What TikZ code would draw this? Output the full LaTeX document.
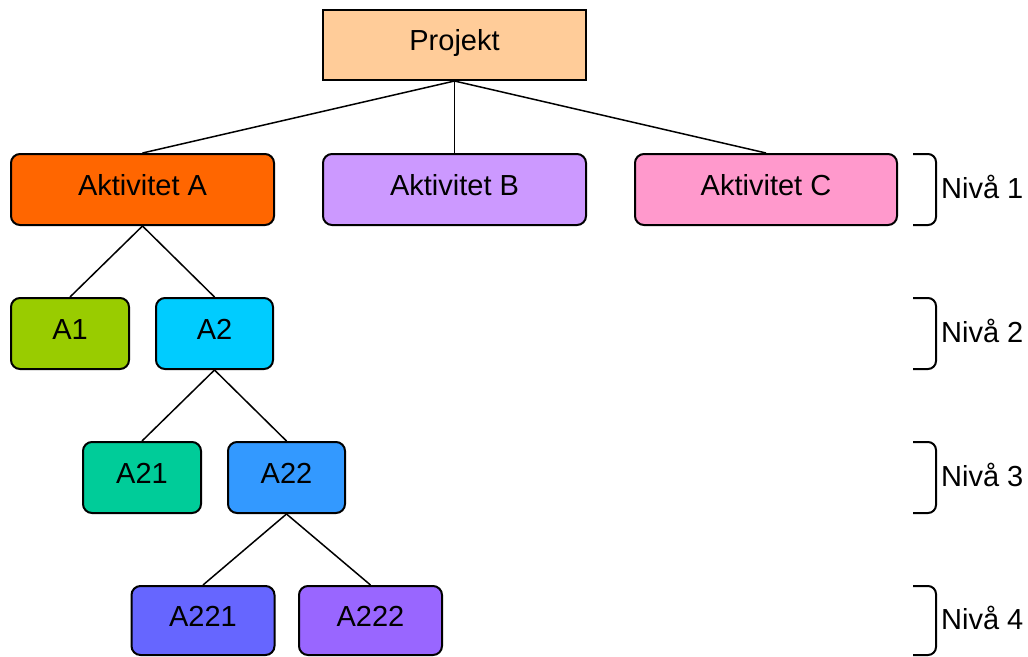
\documentclass[tikz,border=0pt]{standalone}
\usepackage{fontspec}
\setmainfont{Liberation Sans}
\begin{document}
\begin{tikzpicture}[x=1pt,y=-1pt,
  box/.style={draw=black,line width=2pt,rounded corners=9pt,inner sep=0pt,
    font=\fontsize{29}{34}\selectfont,text=black,text height=21pt,text depth=10pt},
  conn/.style={draw=black,line width=1.5pt},
  brace/.style={draw=black,line width=2pt},
  lvl/.style={anchor=west,inner sep=0pt,yshift=3pt,font=\fontsize{29}{34}\selectfont}]
\useasboundingbox (0,0) rectangle (1028,656);
\definecolor{cproj}{HTML}{FFCC99}
\definecolor{ca}{HTML}{FF6600}
\definecolor{cb}{HTML}{CC99FF}
\definecolor{cc}{HTML}{FF99CC}
\definecolor{ca1}{HTML}{99CC00}
\definecolor{ca2}{HTML}{00CCFF}
\definecolor{ca21}{HTML}{00CC99}
\definecolor{ca22}{HTML}{3399FF}
\definecolor{ca221}{HTML}{6666FF}
\definecolor{ca222}{HTML}{9966FF}
\node[box,rounded corners=0pt,fill=cproj,minimum width=263pt,minimum height=70pt] (proj) at (454.5,45) {Projekt};
\node[box,fill=ca,minimum width=263pt,minimum height=71pt] (a) at (142.5,189.5) {Aktivitet A};
\node[box,fill=cb,minimum width=263pt,minimum height=71pt] (b) at (454.5,189.5) {Aktivitet B};
\node[box,fill=cc,minimum width=262pt,minimum height=71pt] (c) at (766,189.5) {Aktivitet C};
\node[box,fill=ca1,minimum width=118pt,minimum height=71pt] (a1) at (70,333.5) {A1};
\node[box,fill=ca2,minimum width=117pt,minimum height=71pt] (a2) at (214.5,333.5) {A2};
\node[box,fill=ca21,minimum width=118pt,minimum height=71pt] (a21) at (142,477.5) {A21};
\node[box,fill=ca22,minimum width=117pt,minimum height=71pt] (a22) at (286.5,477.5) {A22};
\node[box,fill=ca221,minimum width=143pt,minimum height=69pt] (a221) at (203,620.5) {A221};
\node[box,fill=ca222,minimum width=143pt,minimum height=69pt] (a222) at (370.5,620.5) {A222};
\draw[conn] (proj.south) -- (a.north);
\draw[conn] (proj.south) -- (b.north);
\draw[conn] (proj.south) -- (c.north);
\draw[conn] (a.south) -- (a1.north);
\draw[conn] (a.south) -- (a2.north);
\draw[conn] (a2.south) -- (a21.north);
\draw[conn] (a2.south) -- (a22.north);
\draw[conn] (a22.south) -- (a221.north);
\draw[conn] (a22.south) -- (a222.north);
\foreach \t/\b/\n in {154/225/1, 298/369/2, 442/513/3, 586/655/4}{
  \draw[brace,rounded corners=8pt] (913,\t) -- (936,\t) -- (936,\b) -- (913,\b);
  \node[lvl] (niva\n) at (941,{(\t+\b)/2}) {Nivå \n};
}
\end{tikzpicture}
\end{document}
